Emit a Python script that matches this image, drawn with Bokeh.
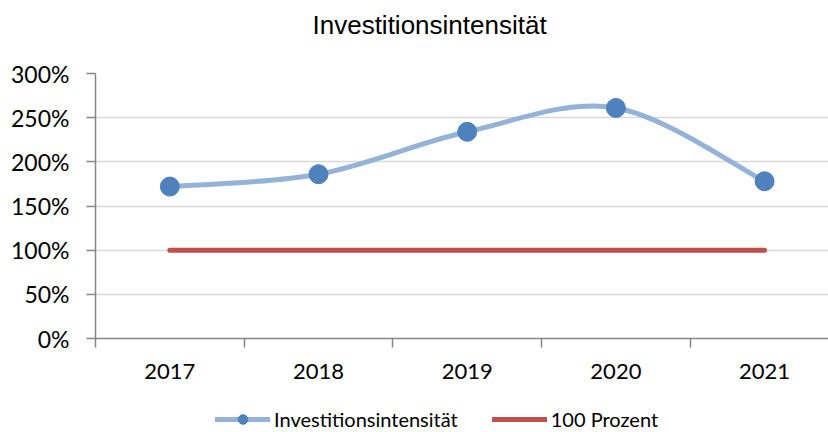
from bokeh.plotting import figure
from bokeh.layouts import column
from bokeh.models import (Range1d, FixedTicker, NumeralTickFormatter, Legend,
                          LegendItem, ColumnDataSource, Title)
from bokeh.embed import file_html
from bokeh.resources import INLINE

# ---- data ----
years = ["2017", "2018", "2019", "2020", "2021"]
intensity = [1.72, 1.86, 2.34, 2.61, 1.78]
reference = [1.00, 1.00, 1.00, 1.00, 1.00]
y_ticks = [0, 0.5, 1.0, 1.5, 2.0, 2.5, 3.0]

xs = list(range(len(years)))

# ---- smooth curve (Excel-like) through data points ----
n = len(xs)
def pt(i):
    i = max(0, min(n - 1, i))
    return xs[i], intensity[i]

bx0, by0, bx1, by1, bcx0, bcy0, bcx1, bcy1 = ([] for _ in range(8))
for i in range(n - 1):
    p0 = pt(i - 1); p1 = pt(i); p2_ = pt(i + 1); p3 = pt(i + 2)
    bx0.append(p1[0]); by0.append(p1[1])
    bx1.append(p2_[0]); by1.append(p2_[1])
    bcx0.append(p1[0] + (p2_[0] - p0[0]) / 6); bcy0.append(p1[1] + (p2_[1] - p0[1]) / 6)
    bcx1.append(p2_[0] - (p3[0] - p1[0]) / 6); bcy1.append(p2_[1] - (p3[1] - p1[1]) / 6)

LINE_BLUE = "#95b3d7"
DOT_BLUE = "#4f81bd"
RED = "#c0504d"
AX = "#868686"

p = figure(width=828, height=392, output_backend="svg", toolbar_location=None,
           x_range=Range1d(-0.5, 4.43), y_range=Range1d(0, 3),
           min_border_left=95, min_border_right=0, min_border_top=73,
           min_border_bottom=54)
p.outline_line_color = None
p.background_fill_color = "white"
p.border_fill_color = "white"

# spacer between frame and title
p.add_layout(Title(text=" ", text_font_size="1px", standoff=30), "above")

# title
p.title.text = "Investitionsintensität"
p.title.text_font = "Liberation Sans"
p.title.text_font_size = "26px"
p.title.text_font_style = "normal"
p.title.text_color = "black"
p.title.align = "left"
p.title.offset = 217
p.title.standoff = 2

# axes
p.yaxis.ticker = FixedTicker(ticks=y_ticks)
p.yaxis.formatter = NumeralTickFormatter(format="0%")
p.yaxis.axis_line_color = AX
p.yaxis.axis_line_width = 1.5
p.yaxis.major_tick_line_color = AX
p.yaxis.major_tick_line_width = 1.5
p.yaxis.major_tick_out = 9
p.yaxis.major_tick_in = 0
p.yaxis.minor_tick_line_color = None
p.yaxis.major_label_text_font = "Lato"
p.yaxis.major_label_text_font_size = "23px"
p.yaxis.major_label_text_color = "black"
p.yaxis.major_label_standoff = 17

p.xaxis.ticker = FixedTicker(ticks=xs, minor_ticks=[x - 0.5 for x in xs] + [xs[-1] + 0.5])
p.xaxis.major_label_overrides = {x: y for x, y in zip(xs, years)}
p.xaxis.axis_line_color = AX
p.xaxis.axis_line_width = 1.5
p.xaxis.major_tick_line_color = None
p.xaxis.major_tick_out = 0
p.xaxis.major_tick_in = 0
p.xaxis.minor_tick_line_color = AX
p.xaxis.minor_tick_line_width = 1.5
p.xaxis.minor_tick_out = 9
p.xaxis.minor_tick_in = 0
p.xaxis.major_label_text_font = "Lato"
p.xaxis.major_label_text_font_size = "22px"
p.xaxis.major_label_text_color = "black"
p.xaxis.major_label_standoff = 16

p.xgrid.grid_line_color = None
p.ygrid.ticker = FixedTicker(ticks=y_ticks)
p.ygrid.grid_line_color = "#d9d9d9"
p.ygrid.grid_line_width = 1.5

# series
p.line(xs, reference, line_color=RED, line_width=5, line_cap="round")
bez_src = ColumnDataSource(dict(x0=bx0, y0=by0, x1=bx1, y1=by1,
                                cx0=bcx0, cy0=bcy0, cx1=bcx1, cy1=bcy1))
p.bezier(x0="x0", y0="y0", x1="x1", y1="y1", cx0="cx0", cy0="cy0",
         cx1="cx1", cy1="cy1", source=bez_src, line_color=LINE_BLUE,
         line_width=5, line_cap="round")
p.scatter(xs, intensity, size=19, fill_color=DOT_BLUE, line_color=DOT_BLUE)

# ---- legend strip (proxy renderers lie outside the visible range) ----
lg = figure(width=828, height=40, output_backend="svg", toolbar_location=None,
            x_range=Range1d(0, 1), y_range=Range1d(0, 1),
            x_axis_type=None, y_axis_type=None,
            min_border_left=0, min_border_right=0, min_border_top=0,
            min_border_bottom=0)
lg.outline_line_color = None
lg.background_fill_color = "white"
lg.border_fill_color = "white"
l1 = lg.line(x=[5, 6], y=[5, 5], line_color=LINE_BLUE, line_width=5, line_cap="round")
s1 = lg.scatter(x=[5], y=[5], size=12, fill_color=DOT_BLUE, line_color=DOT_BLUE)
l2 = lg.line(x=[5, 6], y=[5, 5], line_color=RED, line_width=5, line_cap="round")

legend = Legend(items=[LegendItem(label="Investitionsintensität", renderers=[l1, s1]),
                       LegendItem(label="100 Prozent", renderers=[l2])],
                orientation="horizontal", location=(120, 1),
                glyph_width=55, glyph_height=24, label_standoff=4, spacing=34,
                padding=0, margin=0, border_line_color=None,
                background_fill_alpha=0,
                label_text_font="Lato", label_text_font_size="20px",
                label_text_color="black")
lg.add_layout(legend)

layout = column(p, lg, spacing=0)
open("out.html", "w").write(file_html(layout, INLINE))
